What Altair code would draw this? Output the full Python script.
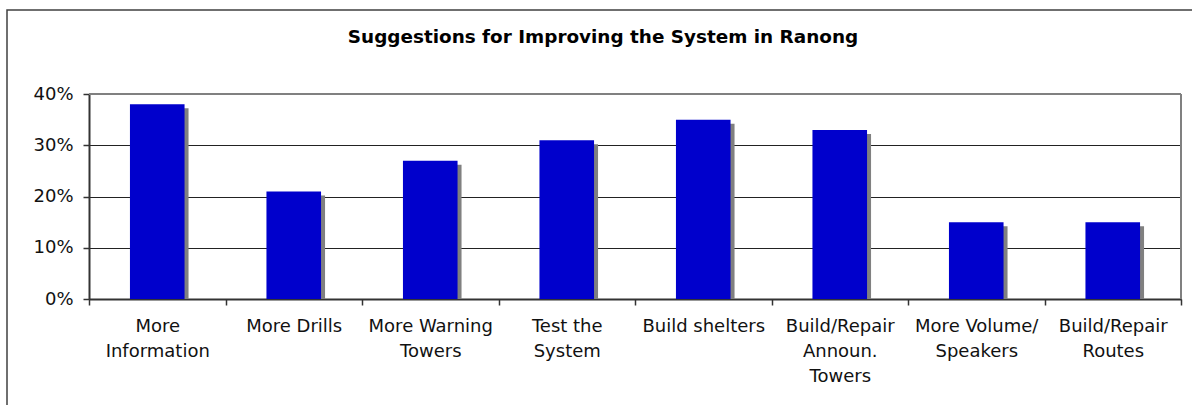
import altair as alt
import pandas as pd

# ---- data ----
categories = ["More|Information", "More Drills", "More Warning|Towers", "Test the|System",
              "Build shelters", "Build/Repair|Announ.|Towers", "More Volume/|Speakers",
              "Build/Repair|Routes"]
values = [0.38, 0.21, 0.27, 0.31, 0.35, 0.33, 0.15, 0.15]
y_ticks = [0, 0.1, 0.2, 0.3, 0.4]
title_text = "Suggestions for Improving the System in Ranong"

df = pd.DataFrame({"cat": categories, "val": values})

W, H = 1092, 205
FONT = "DejaVu Sans"

x_enc = alt.X(
    "cat:N", sort=None,
    scale=alt.Scale(paddingInner=0, paddingOuter=0),
    axis=alt.Axis(
        title=None, labelAngle=0, labelExpr="split(datum.label, '|')",
        tickBand="extent", ticks=True, tickSize=6, tickColor="#333", tickWidth=1.5,
        domainColor="#333", domainWidth=2, labelFont=FONT, labelFontSize=18,
        labelColor="#111", labelLineHeight=25, labelBaseline="top", labelPadding=12,
        labelOverlap=False, labelLimit=200, grid=False,
    ),
)
y_enc = alt.Y(
    "val:Q",
    scale=alt.Scale(domain=[0, 0.4], nice=False),
    axis=alt.Axis(
        title=None, values=y_ticks, format=".0%", tickSize=6, tickColor="#333",
        tickWidth=1.5, domainColor="#333", domainWidth=2, labelFont=FONT,
        labelFontSize=18, labelColor="#111", labelPadding=10, grid=True,
        gridColor="#222", gridWidth=1.2,
    ),
)

shadow = alt.Chart(df).mark_bar(
    color="#808080", width={"band": 0.4}, xOffset=4, yOffset=4, clip=True
).encode(x=x_enc, y=y_enc)

bars = alt.Chart(df).mark_bar(
    color="#0000CC", width={"band": 0.4}
).encode(x=x_enc, y=y_enc)

one = pd.DataFrame({"k": [0]})
frame = alt.Chart(one).mark_rect(
    filled=False, stroke="#404040", strokeWidth=1.5, fillOpacity=0
).encode(x=alt.value(-82), y=alt.value(-84), x2=alt.value(1130), y2=alt.value(340))

top_border = alt.Chart(one).mark_rule(color="#808080", strokeWidth=2).encode(
    x=alt.value(0), x2=alt.value(W), y=alt.value(0))
right_border = alt.Chart(one).mark_rule(color="#808080", strokeWidth=2).encode(
    x=alt.value(W), y=alt.value(0), y2=alt.value(H))

chart = alt.layer(frame, shadow, bars, top_border, right_border).properties(
    width=W, height=H,
    autosize=alt.AutoSizeParams(type="none"),
    padding={"left": 89, "top": 94, "right": 11, "bottom": 106},
    title=alt.TitleParams(
        text=title_text, font=FONT, fontSize=18.4, fontWeight="bold", color="#000",
        anchor="middle", dx=-32, offset=0, dy=52, baseline="alphabetic",
    ),
).configure_view(stroke=None).configure(background="white")

chart.save("out.html", embed_options={"renderer": "svg", "actions": False})
